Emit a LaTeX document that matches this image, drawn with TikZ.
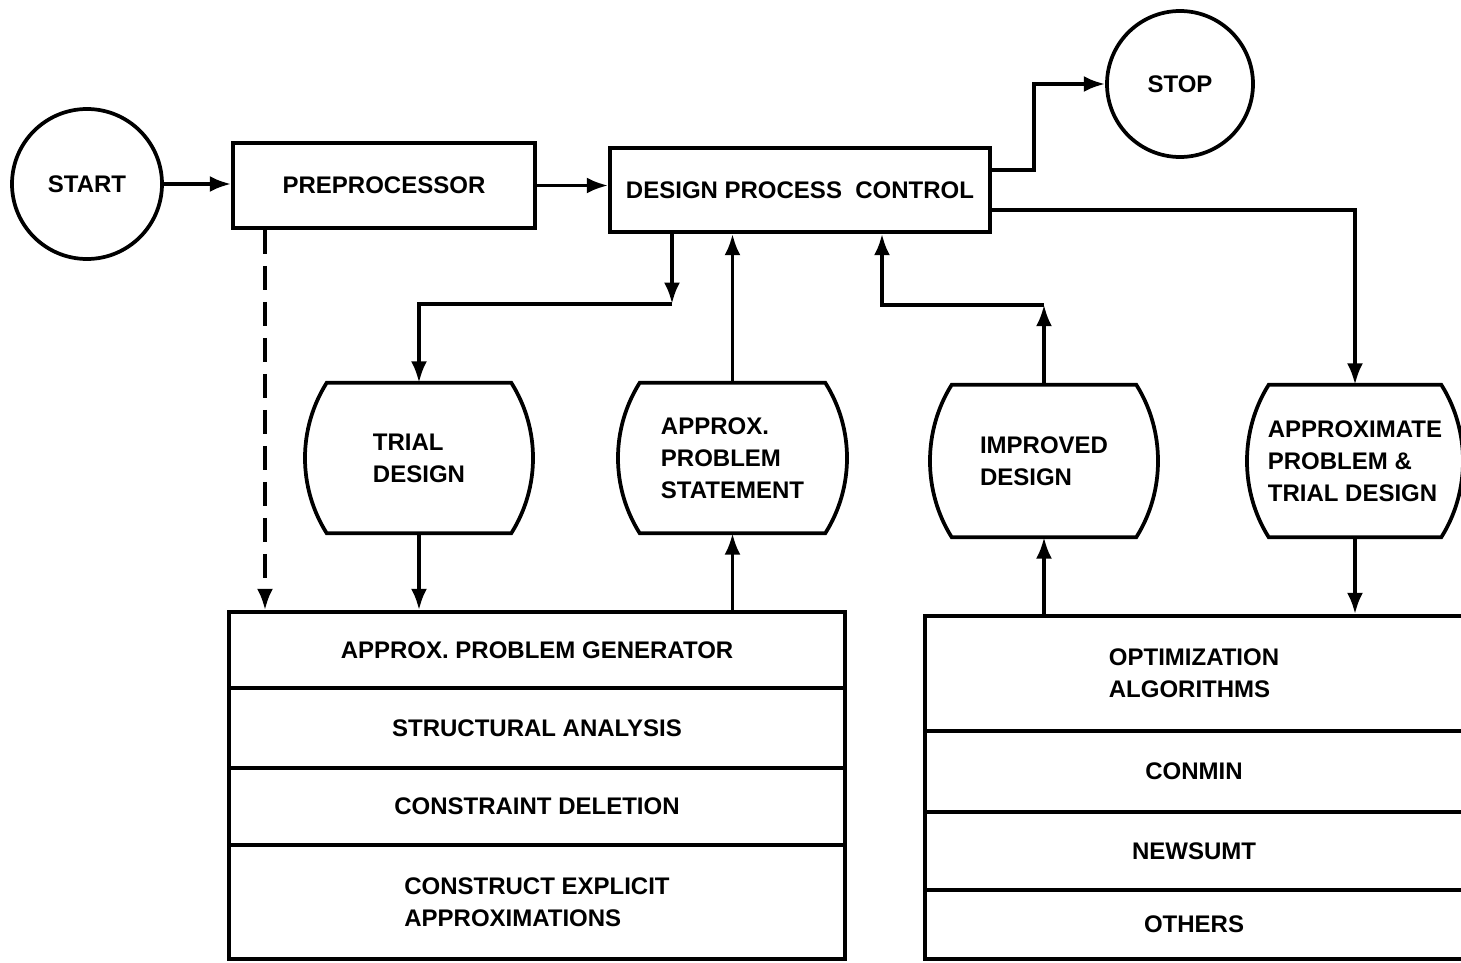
\documentclass[tikz,border=0pt]{standalone}
\usepackage{fontspec}
\setmainfont{Liberation Sans}
\usetikzlibrary{arrows.meta,calc}
\newcommand\drawstore[1]{%
  \draw[ln] ($(#1.north west)+(22,0)$) -- ($(#1.north east)+(-22,0)$)
    .. controls +(29,46) and +(29,-46) .. ($(#1.south east)+(-22,0)$)
    -- ($(#1.south west)+(22,0)$)
    .. controls +(-29,-46) and +(-29,46) .. cycle;}
\begin{document}
\begin{tikzpicture}[x=0.75pt,y=-0.75pt,
  every node/.style={font=\fontsize{18}{24}\selectfont\bfseries, inner sep=0pt, align=center},
  ln/.style={line width=2.8pt, line join=miter},
  boxnode/.style={draw, ln},
  circ/.style={draw, ln, circle},
  storenode/.style={align=left},
  rowbox/.style={draw, ln},
  arr/.style={ln, -{Latex[length=16pt,width=12pt]}},
  dashedarr/.style={arr, dash pattern=on 18pt off 9pt},
]
\useasboundingbox (0,0) rectangle (1461,963);
\clip (0,0) rectangle (1461,963);

% top row
\node[circ, minimum size=112.5pt] (start) at (87,184) {START};
\node[boxnode, minimum width=226.5pt, minimum height=63.75pt] (pre) at (384,185.5) {PREPROCESSOR};
\node[boxnode, minimum width=285pt, minimum height=63pt] (dpc) at (800,190) {DESIGN PROCESS\ \ CONTROL};
\node[circ, minimum size=109.5pt] (stop) at (1180,84) {STOP};

% storage shapes
\node[storenode, minimum width=171pt, minimum height=112.5pt] (trial) at (419,458) {TRIAL\\DESIGN};
\node[storenode, minimum width=171.75pt, minimum height=112.5pt] (apps) at (732.5,458) {APPROX.\\PROBLEM\\STATEMENT};
\node[storenode, minimum width=171pt, minimum height=114pt] (impr) at (1044,461) {IMPROVED\\DESIGN};
\node[storenode, minimum width=162pt, minimum height=114pt] (appx) at (1355,461) {APPROXIMATE\\PROBLEM \&\\TRIAL DESIGN};
\drawstore{trial}
\drawstore{apps}
\drawstore{impr}
\drawstore{appx}

% left stacked box
\node[rowbox, minimum width=462pt, minimum height=57pt] (gen) at (537,650) {APPROX. PROBLEM GENERATOR};
\node[rowbox, minimum width=462pt, minimum height=60pt] (struct) at (537,728) {STRUCTURAL ANALYSIS};
\node[rowbox, minimum width=462pt, minimum height=57.75pt] (cdel) at (537,806.5) {CONSTRAINT DELETION};
\node[rowbox, minimum width=462pt, minimum height=85.5pt, align=left] (cexp) at (537,902) {CONSTRUCT EXPLICIT\\APPROXIMATIONS};

% right stacked box
\node[rowbox, minimum width=403.5pt, minimum height=86.25pt, align=left] (opt) at (1194,673.5) {OPTIMIZATION\\ALGORITHMS};
\node[rowbox, minimum width=403.5pt, minimum height=60.75pt] (conmin) at (1194,771.5) {CONMIN};
\node[rowbox, minimum width=403.5pt, minimum height=58.5pt] (news) at (1194,851) {NEWSUMT};
\node[rowbox, minimum width=403.5pt, minimum height=51.75pt] (others) at (1194,924.5) {OTHERS};

% connectors
\draw[arr] (start.east) -- (start.east -| pre.west);
\draw[arr] (pre.east) -- (pre.east -| dpc.west);
\draw[arr] ([yshift=15pt]dpc.east) -- ++(42,0) |- (stop.west);
\draw[arr] ([yshift=-15pt]dpc.east) -| (appx.north);

\path ([xshift=-96pt]dpc.south) coordinate (t0) ++(0,70) coordinate (t1);
\draw[arr] (t0) -- (t1);
\draw[arr] (t1) -| (trial.north);

\draw[arr] (apps.north) -- (apps.north |- dpc.south);

\path (impr.north) ++(0,-80) coordinate (t2);
\path ([xshift=61.5pt]dpc.south) coordinate (t3);
\draw[arr] (impr.north) -- (t2);
\draw[arr] (t2) -| (t3);

\draw[arr] (trial.south) -- (trial.south |- gen.north);
\draw[arr] (apps.south |- gen.north) -- (apps.south);
\draw[arr] (impr.south |- opt.north) -- (impr.south);
\draw[arr] (appx.south) -- (appx.south |- opt.north);

\path ([xshift=-89.25pt]pre.south) coordinate (d0);
\draw[dashedarr] (d0) -- (d0 |- gen.north);
\end{tikzpicture}
\end{document}
